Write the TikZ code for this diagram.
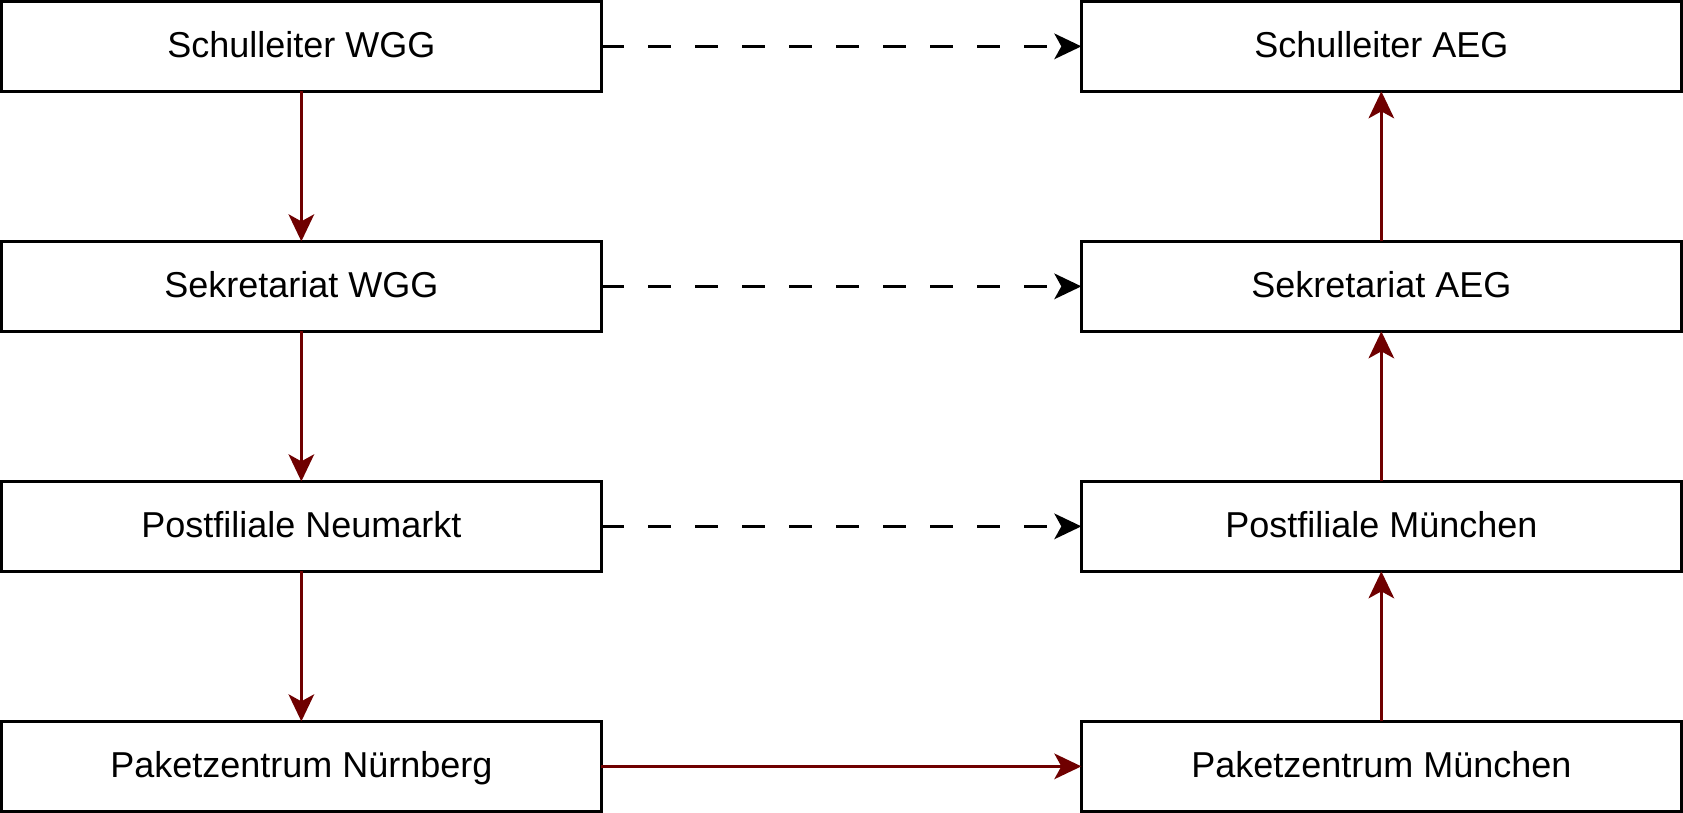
\documentclass[tikz,border=0pt]{standalone}
\usepackage{fontspec}
\setmainfont{Liberation Sans}
\usetikzlibrary{arrows.meta}
\definecolor{darkred}{HTML}{6F0000}
\begin{document}
\begin{tikzpicture}[x=0.5pt,y=-0.5pt,
  box/.style={draw=black, line width=1.35pt, fill=white, minimum width=300pt, minimum height=45pt, inner sep=0pt, outer sep=0pt, text height=12.5pt, text depth=1.5pt, font=\fontsize{18pt}{21pt}\selectfont},
  tip/.style={-{Stealth[length=13.5pt, width=12.8pt, inset=3.5pt]}},
  redarrow/.style={tip, draw=darkred, fill=darkred, line width=1.35pt},
  dasharrow/.style={tip, draw=black, line width=1.35pt, dash pattern=on 11.5pt off 12pt}]
\useasboundingbox (0,0) rectangle (1683,813);
\node[box] (sw) at (301.35,46.35) {Schulleiter WGG};
\node[box] (kw) at (301.35,286.35) {Sekretariat WGG};
\node[box] (pn) at (301.35,526.35) {Postfiliale Neumarkt};
\node[box] (zn) at (301.35,766.35) {Paketzentrum Nürnberg};
\node[box] (sa) at (1381.35,46.35) {Schulleiter AEG};
\node[box] (ka) at (1381.35,286.35) {Sekretariat AEG};
\node[box] (pm) at (1381.35,526.35) {Postfiliale München};
\node[box] (zm) at (1381.35,766.35) {Paketzentrum München};
\draw[redarrow] (sw) -- (kw);
\draw[redarrow] (kw) -- (pn);
\draw[redarrow] (pn) -- (zn);
\draw[redarrow] (zn) -- (zm);
\draw[redarrow] (zm) -- (pm);
\draw[redarrow] (pm) -- (ka);
\draw[redarrow] (ka) -- (sa);
\draw[dasharrow] (sw) -- (sa);
\draw[dasharrow] (kw) -- (ka);
\draw[dasharrow] (pn) -- (pm);
\end{tikzpicture}
\end{document}
